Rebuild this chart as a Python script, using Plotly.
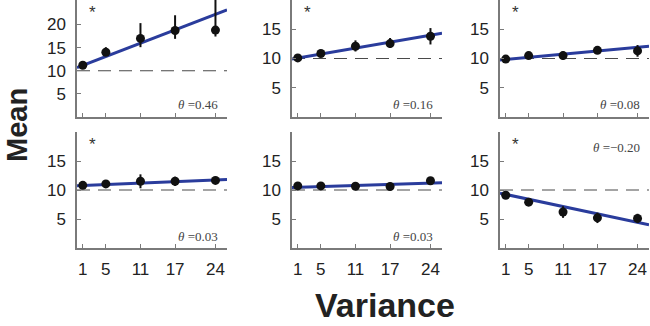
import plotly.graph_objects as go

variance = [1, 5, 11, 17, 24]
x_ticks = [1, 5, 11, 17, 24]

mean_p1 = [11.2, 14.0, 17.0, 18.7, 18.8]
err_up_p1 = [0.5, 1.1, 3.3, 3.3, 7.5]
err_dn_p1 = [0.5, 0.8, 1.9, 1.8, 1.4]

mean_p2 = [10.1, 10.85, 12.1, 12.55, 13.8]
err_up_p2 = [0.3, 0.5, 1.0, 0.95, 1.4]
err_dn_p2 = [0.3, 0.5, 0.9, 0.75, 1.4]

mean_p3 = [9.9, 10.5, 10.5, 11.4, 11.3]
err_up_p3 = [0.3, 0.4, 0.7, 0.6, 1.0]
err_dn_p3 = [0.3, 0.4, 0.7, 0.6, 1.0]

mean_p4 = [10.8, 11.05, 11.5, 11.5, 11.65]
err_up_p4 = [0.3, 0.3, 1.2, 0.8, 0.3]
err_dn_p4 = [0.3, 0.3, 1.2, 0.8, 0.3]

mean_p5 = [10.7, 10.7, 10.65, 10.6, 11.6]
err_up_p5 = [0.3, 0.3, 0.3, 0.7, 0.5]
err_dn_p5 = [0.3, 0.3, 0.3, 0.7, 0.5]

mean_p6 = [9.1, 7.9, 6.2, 5.2, 5.1]
err_up_p6 = [0.3, 0.4, 1.0, 0.9, 0.8]
err_dn_p6 = [0.3, 0.4, 1.0, 0.9, 0.8]

fit_intercept = [10.7, 9.9, 9.75, 10.75, 10.45, 9.45]
fit_slope = [0.48, 0.17, 0.09, 0.04, 0.03, -0.21]
theta_labels = ["0.46", "0.16", "0.08", "0.03", "0.03", "\u22120.20"]
significant = [True, True, True, True, False, True]
baseline = 10

means = [mean_p1, mean_p2, mean_p3, mean_p4, mean_p5, mean_p6]
ups = [err_up_p1, err_up_p2, err_up_p3, err_up_p4, err_up_p5, err_up_p6]
dns = [err_dn_p1, err_dn_p2, err_dn_p3, err_dn_p4, err_dn_p5, err_dn_p6]

W, H = 650, 326
x_px = [(77, 227), (292, 442), (500, 649)]
y_px = [(0, 117), (132, 248)]
y_ranges = [[0, 25.3], [0, 20], [0, 20], [0, 20], [0, 20], [0, 20]]
y_tickvals = [[5, 10, 15, 20], [5, 10, 15], [5, 10, 15], [5, 10, 15], [5, 10, 15], [5, 10, 15]]
x_range = [0, 26]

BLUE = "#2a3c9c"
AXC = "#7a7a7a"

fig = go.Figure()
layout = dict(width=W, height=H, margin=dict(l=0, r=0, t=0, b=0),
              paper_bgcolor="white", plot_bgcolor="white", showlegend=False,
              font=dict(family="Liberation Sans, Arial, sans-serif", color="#222"))
annotations = []

for i in range(6):
    row, col = divmod(i, 3)
    n = i + 1
    xa = "x" if n == 1 else f"x{n}"
    ya = "y" if n == 1 else f"y{n}"
    xk = "xaxis" if n == 1 else f"xaxis{n}"
    yk = "yaxis" if n == 1 else f"yaxis{n}"
    x0, x1 = x_px[col]
    yt, yb = y_px[row]
    layout[xk] = dict(domain=[x0 / W, x1 / W], range=x_range, anchor=ya,
                      showgrid=False, zeroline=False, showline=True, linecolor=AXC, linewidth=1.5,
                      ticks="inside", ticklen=4, tickcolor=AXC, tickvals=x_ticks,
                      showticklabels=(row == 1), tickfont=dict(size=17, color="#222"),
                      ticklabelstandoff=5)
    layout[yk] = dict(domain=[1 - yb / H, 1 - yt / H], range=y_ranges[i], anchor=xa,
                      showgrid=False, zeroline=False, showline=True, linecolor=AXC, linewidth=1.5,
                      ticks="inside", ticklen=4, tickcolor=AXC, tickvals=y_tickvals[i],
                      tickfont=dict(size=17, color="#222"), ticklabelstandoff=6)
    # dashed baseline
    fig.add_trace(go.Scatter(x=x_range, y=[baseline, baseline], mode="lines", xaxis=xa, yaxis=ya,
                             line=dict(color="#4a4a4a", width=1.2, dash="13px,8px"), hoverinfo="skip"))
    # fit line
    fy = [fit_intercept[i] + fit_slope[i] * xv for xv in x_range]
    fig.add_trace(go.Scatter(x=x_range, y=fy, mode="lines", xaxis=xa, yaxis=ya,
                             line=dict(color=BLUE, width=3), hoverinfo="skip", cliponaxis=True))
    # points with error bars
    fig.add_trace(go.Scatter(x=variance, y=means[i], mode="markers", xaxis=xa, yaxis=ya,
                             marker=dict(color="#111", size=9),
                             error_y=dict(type="data", symmetric=False, array=ups[i], arrayminus=dns[i],
                                          color="#111", thickness=2, width=0),
                             cliponaxis=True))
    if significant[i]:
        annotations.append(dict(text="*", xref="paper", yref="paper",
                                x=(x0 + 15) / W, y=1 - (yt + 12) / H, showarrow=False,
                                font=dict(size=17, color="#333", family="Liberation Sans, Arial"),
                                xanchor="center", yanchor="middle"))
    if i == 5:
        ty = yt + 15
    else:
        ty = yb - 12
    annotations.append(dict(text=f"<i>\u03b8</i> =" + theta_labels[i], xref="paper", yref="paper",
                            x=(x1 - 7) / W, y=1 - ty / H, showarrow=False,
                            font=dict(size=13, color="#444", family="Liberation Serif, DejaVu Serif, serif"),
                            xanchor="right", yanchor="middle"))

annotations.append(dict(text="<b>Mean</b>", xref="paper", yref="paper", x=17 / W, y=1 - 125 / H,
                        showarrow=False, textangle=-90,
                        font=dict(size=29, color="#222", family="Liberation Sans, Arial, sans-serif"),
                        xanchor="center", yanchor="middle"))
annotations.append(dict(text="<b>Variance</b>", xref="paper", yref="paper", x=385 / W, y=0,
                        showarrow=False,
                        font=dict(size=34, color="#222", family="Liberation Sans, Arial, sans-serif"),
                        xanchor="center", yanchor="bottom"))
layout["annotations"] = annotations
fig.update_layout(**layout)
fig.write_html("out.html", config={"displayModeBar": False},
               post_script="document.body.style.margin='0';document.body.style.overflow='hidden';")
